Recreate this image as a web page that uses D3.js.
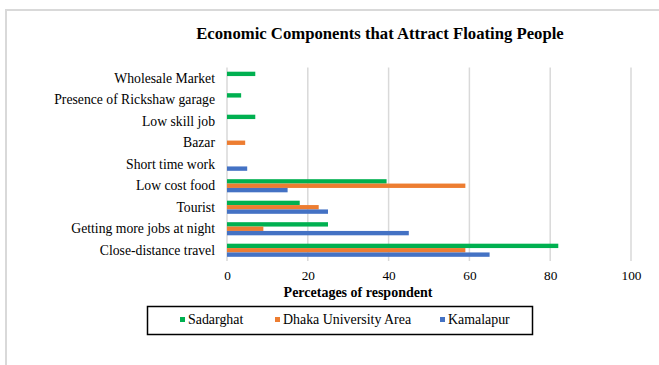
<!DOCTYPE html>
<html>
<head>
<meta charset="utf-8">
<script src="https://cdn.jsdelivr.net/npm/d3@7"></script>
</head>
<body style="margin:0;background:#fff">
<svg id="chart" width="659" height="365" font-family="Liberation Serif"></svg>
<script>
// DATA
const categories = ["Wholesale Market", "Presence of Rickshaw garage", "Low skill job", "Bazar",
  "Short time work", "Low cost food", "Tourist", "Getting more jobs at night", "Close-distance travel"];
const seriesNames = ["Sadarghat", "Dhaka University Area", "Kamalapur"];
const sadarghat = [7, 3.5, 7, 0, 0, 39.5, 18, 25, 82];
const dhakaUniversity = [0, 0, 0, 4.5, 0, 59, 22.7, 9, 59];
const kamalapur = [0, 0, 0, 0, 5, 15, 25, 45, 65];
const xTicks = [0, 20, 40, 60, 80, 100];
const colors = ["#00B050", "#ED7D31", "#4472C4"];

const seriesValues = [sadarghat, dhakaUniversity, kamalapur];
const FONT = "Liberation Serif";

const svg = d3.select("#chart");

// OUTER FRAME
svg.append("rect")
  .attr("x", 6).attr("y", 10)
  .attr("width", 700).attr("height", 400)
  .attr("fill", "none")
  .attr("stroke", "#d9d9d9")
  .attr("stroke-width", 2);

// TITLE
svg.append("text")
  .attr("x", 380).attr("y", 38.5)
  .attr("text-anchor", "middle")
  .attr("font-family", FONT)
  .attr("font-weight", "bold")
  .attr("font-size", 16.7)
  .text("Economic Components that Attract Floating People");

// SCALES
const x = d3.scaleLinear().domain([0, 100]).range([227, 631]);
const y = d3.scaleBand().domain(categories).range([67.5, 261])
  .paddingInner(0.39).paddingOuter(0.195);
const ySub = d3.scaleBand().domain(seriesNames).range([0, y.bandwidth()]);

// GRIDLINES
svg.append("g")
  .selectAll("line")
  .data(xTicks)
  .enter().append("line")
  .attr("x1", d => x(d)).attr("x2", d => x(d))
  .attr("y1", 67.5).attr("y2", 261)
  .attr("stroke", "#d9d9d9")
  .attr("stroke-width", 1.5);

// BARS
const groups = svg.append("g")
  .selectAll("g")
  .data(categories)
  .enter().append("g")
  .attr("transform", d => "translate(0," + y(d) + ")");

groups.selectAll("rect")
  .data((d, i) => seriesNames.map((s, j) => ({ name: s, value: seriesValues[j][i], color: colors[j] })))
  .enter().append("rect")
  .filter(d => d.value > 0)
  .attr("x", x(0))
  .attr("y", d => ySub(d.name))
  .attr("width", d => x(d.value) - x(0))
  .attr("height", ySub.bandwidth())
  .attr("fill", d => d.color);

// CATEGORY LABELS
const yAxis = svg.append("g")
  .attr("transform", "translate(215,0)")
  .call(d3.axisLeft(y).tickSize(0).tickPadding(0))
  .attr("font-family", FONT)
  .attr("font-size", 13.7);
yAxis.select(".domain").remove();
yAxis.selectAll("text").attr("fill", "#000");

// X TICK LABELS
const xAxis = svg.append("g")
  .attr("transform", "translate(0,270.5)")
  .call(d3.axisBottom(x).tickValues(xTicks).tickSize(0).tickPadding(0))
  .attr("font-family", FONT)
  .attr("font-size", 13.3);
xAxis.select(".domain").remove();
xAxis.selectAll("text").attr("fill", "#000");

// X AXIS TITLE
svg.append("text")
  .attr("x", 358).attr("y", 297)
  .attr("text-anchor", "middle")
  .attr("font-family", FONT)
  .attr("font-weight", "bold")
  .attr("font-size", 14)
  .text("Percetages of respondent");

// LEGEND
svg.append("rect")
  .attr("x", 147.5).attr("y", 306.5)
  .attr("width", 385).attr("height", 28)
  .attr("fill", "none")
  .attr("stroke", "#000")
  .attr("stroke-width", 1.5);

const legendX = [180, 275, 440];
const legend = svg.append("g")
  .selectAll("g")
  .data(seriesNames)
  .enter().append("g")
  .attr("transform", (d, i) => "translate(" + legendX[i] + ",0)");
legend.append("rect")
  .attr("x", 0).attr("y", 317)
  .attr("width", 5).attr("height", 5)
  .attr("fill", (d, i) => colors[i]);
legend.append("text")
  .attr("x", 8).attr("y", 324)
  .attr("font-family", FONT)
  .attr("font-size", 13.9)
  .text(d => d);
</script>
</body>
</html>
